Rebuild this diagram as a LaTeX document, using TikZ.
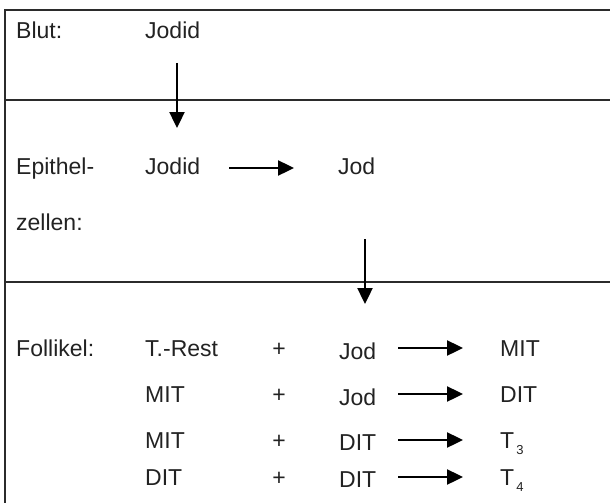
\documentclass[tikz,border=0pt]{standalone}
\usepackage{fontspec}
\setmainfont{Liberation Sans}
\usetikzlibrary{arrows.meta}
\definecolor{txt}{HTML}{222222}
\definecolor{frame}{HTML}{2B2B2B}
\tikzset{
  lbl/.style={anchor=base west, inner sep=0pt, text=txt, font=\fontsize{23}{27}\selectfont},
  plus/.style={anchor=base, inner sep=0pt, text=txt, font=\fontsize{23}{27}\selectfont},
  rule/.style={draw=frame, line width=2.2pt},
  flow/.style={draw=black, line width=2.4pt, -{Triangle[length=16pt,width=15pt]}},
}
\newcommand{\subidx}[1]{\hspace{2pt}\raisebox{-6pt}{\fontsize{13}{13}\selectfont #1}}
\begin{document}
\begin{tikzpicture}[x=1pt,y=-1pt]
\useasboundingbox (0,0) rectangle (610,503);
% frame
\coordinate (tl) at (5,10);
\coordinate (tr) at (610,10);
\coordinate (bl) at (5,503);
\coordinate (m1l) at (5,100);
\coordinate (m1r) at (610,100);
\coordinate (m2l) at (5,282);
\coordinate (m2r) at (610,282);
\draw[rule] (tr) -- (tl) -- (bl);
\draw[rule] (m1l) -- (m1r);
\draw[rule] (m2l) -- (m2r);

% Blut
\node[lbl] (blut) at (16,38) {Blut:};
\node[lbl] (jodidA) at (145,38) {Jodid};
\coordinate (a1s) at (177,63);
\coordinate (a1e) at (177,128);
\draw[flow] (a1s) -- (a1e);

% Epithelzellen
\node[lbl] (epi) at (16,174) {Epithel-};
\node[lbl] (zel) at (16,230) {zellen:};
\node[lbl] (jodidB) at (145,174) {Jodid};
\node[lbl] (jodB) at (338,174) {Jod};
\coordinate (a2s) at (229,168);
\coordinate (a2e) at (294,168);
\draw[flow] (a2s) -- (a2e);
\coordinate (a3s) at (365,239);
\coordinate (a3e) at (365,304);
\draw[flow] (a3s) -- (a3e);

% Follikel
\node[lbl] (fol) at (16,356) {Follikel:};
% row 1
\node[lbl] (r1a) at (145,356) {T.-Rest};
\node[plus] (r1p) at (279,356) {+};
\node[lbl] (r1b) at (339,359) {Jod};
\node[lbl] (r1c) at (500,356) {MIT};
\coordinate (r1s) at (398,348);
\coordinate (r1e) at (463,348);
\draw[flow] (r1s) -- (r1e);
% row 2
\node[lbl] (r2a) at (145,402) {MIT};
\node[plus] (r2p) at (279,402) {+};
\node[lbl] (r2b) at (339,405) {Jod};
\node[lbl] (r2c) at (500,402) {DIT};
\coordinate (r2s) at (398,394);
\coordinate (r2e) at (463,394);
\draw[flow] (r2s) -- (r2e);
% row 3
\node[lbl] (r3a) at (145,448) {MIT};
\node[plus] (r3p) at (279,448) {+};
\node[lbl] (r3b) at (339,450) {DIT};
\node[lbl] (r3c) at (500,448) {T\subidx{3}};
\coordinate (r3s) at (398,440);
\coordinate (r3e) at (463,440);
\draw[flow] (r3s) -- (r3e);
% row 4
\node[lbl] (r4a) at (145,485) {DIT};
\node[plus] (r4p) at (279,485) {+};
\node[lbl] (r4b) at (339,487) {DIT};
\node[lbl] (r4c) at (500,485) {T\subidx{4}};
\coordinate (r4s) at (398,477);
\coordinate (r4e) at (463,477);
\draw[flow] (r4s) -- (r4e);
\end{tikzpicture}
\end{document}
